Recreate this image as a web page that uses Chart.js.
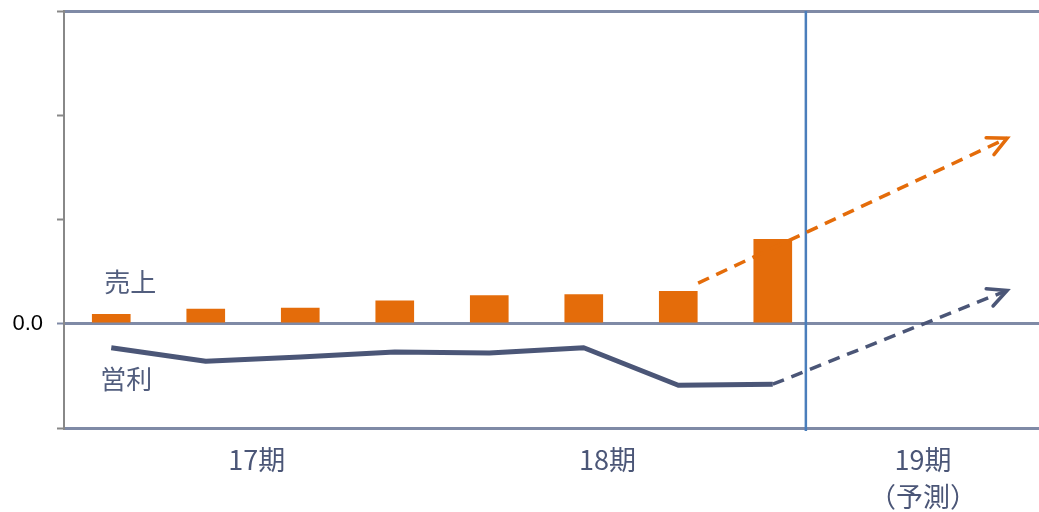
<!DOCTYPE html>
<html>
<head>
<meta charset="utf-8">
<script src="https://cdn.jsdelivr.net/npm/chart.js@4/dist/chart.umd.min.js"></script>
<style>
html,body{margin:0;padding:0;background:#fff;}
#wrap{width:1039px;height:512px;}
</style>
</head>
<body>
<div id="wrap"><canvas id="c" width="1039" height="512"></canvas></div>
<script>
// ---- data ----
const periodLabels = ['17期', '18期', ['19期', '（予測）']];
const periodTickPos = [1.54, 5.25, 8.59];
const seriesNames = ['売上', '営利'];
const salesValues = [0.9, 1.4, 1.5, 2.2, 2.7, 2.8, 3.1, 8.1];
const profitValues = [-2.3, -3.6, -3.2, -2.7, -2.8, -2.3, -5.9, -5.8];
const salesForecastX = [6.21, 9.48];
const salesForecastY = [3.9, 17.8];
const profitForecastX = [7, 9.48];
const profitForecastY = [-5.8, 3.2];
const forecastBoundary = 7.35;
const yMin = -10, yMax = 30, yStep = 10;

const ORANGE = '#e46c0a';
const NAVY = '#4b5677';
const GRIDC = '#7f8aa6';

const toXY = (xs, ys) => xs.map((x, i) => ({x: x, y: ys[i]}));

const deco = {
  id: 'deco',
  beforeDatasetsDraw(chart) {
    const {ctx, chartArea, scales: {x}} = chart;
    const px = x.getPixelForValue(forecastBoundary);
    ctx.save();
    ctx.strokeStyle = '#4a7ebb';
    ctx.lineWidth = 2.5;
    ctx.beginPath();
    ctx.moveTo(px, chartArea.top);
    ctx.lineTo(px, chartArea.bottom + 3);
    ctx.stroke();
    ctx.restore();
  },
  afterDatasetsDraw(chart) {
    const {ctx, scales: {x, y}} = chart;
    ctx.save();
    chart.data.datasets.forEach((ds, i) => {
      if (!ds.arrow) return;
      const pts = chart.getDatasetMeta(i).data;
      const a = pts[pts.length - 2], b = pts[pts.length - 1];
      const ang = Math.atan2(b.y - a.y, b.x - a.x);
      const L = 21, th = 26 * Math.PI / 180;
      ctx.strokeStyle = ds.borderColor;
      ctx.lineWidth = 3.5;
      ctx.lineCap = 'round';
      ctx.beginPath();
      ctx.moveTo(b.x - L * Math.cos(ang - th), b.y - L * Math.sin(ang - th));
      ctx.lineTo(b.x, b.y);
      ctx.lineTo(b.x - L * Math.cos(ang + th), b.y - L * Math.sin(ang + th));
      ctx.stroke();
    });
    const nameAnchors = [[0.2, 4.0], [0.16, -5.3]];
    ctx.fillStyle = '#525e7e';
    ctx.font = '26px "Noto Sans CJK JP"';
    ctx.textAlign = 'center';
    ctx.textBaseline = 'middle';
    seriesNames.forEach((n, i) => {
      ctx.fillText(n, x.getPixelForValue(nameAnchors[i][0]), y.getPixelForValue(nameAnchors[i][1]));
    });
    ctx.restore();
  }
};

new Chart(document.getElementById('c'), {
  type: 'bar',
  data: {
    datasets: [
      {
        type: 'line',
        label: seriesNames[1],
        data: salesValues.map((v, i) => ({x: i, y: profitValues[i]})),
        borderColor: NAVY,
        borderWidth: 5,
        pointRadius: 0,
        tension: 0,
        borderJoinStyle: 'round'
      },
      {
        type: 'line',
        label: '売上予測',
        arrow: true,
        data: toXY(salesForecastX, salesForecastY),
        borderColor: ORANGE,
        borderWidth: 3.5,
        borderDash: [12, 8],
        pointRadius: 0
      },
      {
        type: 'line',
        label: '営利予測',
        arrow: true,
        data: toXY(profitForecastX, profitForecastY),
        borderColor: NAVY,
        borderWidth: 3.5,
        borderDash: [12, 8],
        pointRadius: 0
      },
      {
        type: 'bar',
        label: seriesNames[0],
        data: salesValues.map((v, i) => ({x: i, y: v})),
        backgroundColor: ORANGE,
        borderWidth: 0,
        barThickness: 38
      }
    ]
  },
  options: {
    responsive: false,
    animation: false,
    layout: {padding: {top: 11, left: 0, right: 0, bottom: 0}},
    plugins: {legend: {display: false}, tooltip: {enabled: false}},
    scales: {
      x: {
        type: 'linear',
        min: -0.5,
        max: 9.817,
        offset: false,
        afterBuildTicks: (s) => { s.ticks = periodTickPos.map(v => ({value: v})); },
        afterFit: (s) => { s.height = 84; s.paddingLeft = 0; s.paddingRight = 0; },
        grid: {display: false, drawTicks: false},
        border: {display: false},
        ticks: {
          autoSkip: false,
          maxRotation: 0,
          padding: 13,
          color: NAVY,
          font: {family: '"Noto Sans CJK JP"', size: 27, lineHeight: 1.38},
          callback: (v, i) => periodLabels[i]
        }
      },
      y: {
        type: 'linear',
        min: yMin,
        max: yMax,
        afterFit: (s) => { s.width = 64; s.paddingTop = 0; s.paddingBottom = 0; },
        ticks: {
          stepSize: yStep,
          padding: 14,
          color: '#000',
          font: {family: '"Liberation Sans"', size: 22},
          callback: (v) => (v === 0 ? '0.0' : '')
        },
        grid: {
          lineWidth: 3,
          tickLength: 7,
          tickWidth: 2,
          color: (c) => ((c.tick && (c.tick.value === 0 || c.tick.value === yMin || c.tick.value === yMax)) ? GRIDC : 'rgba(0,0,0,0)'),
          tickColor: (c) => (c.tick && c.tick.value === 0 ? GRIDC : '#888')
        },
        border: {display: true, color: '#888', width: 2}
      }
    }
  },
  plugins: [deco]
});
</script>
</body>
</html>
